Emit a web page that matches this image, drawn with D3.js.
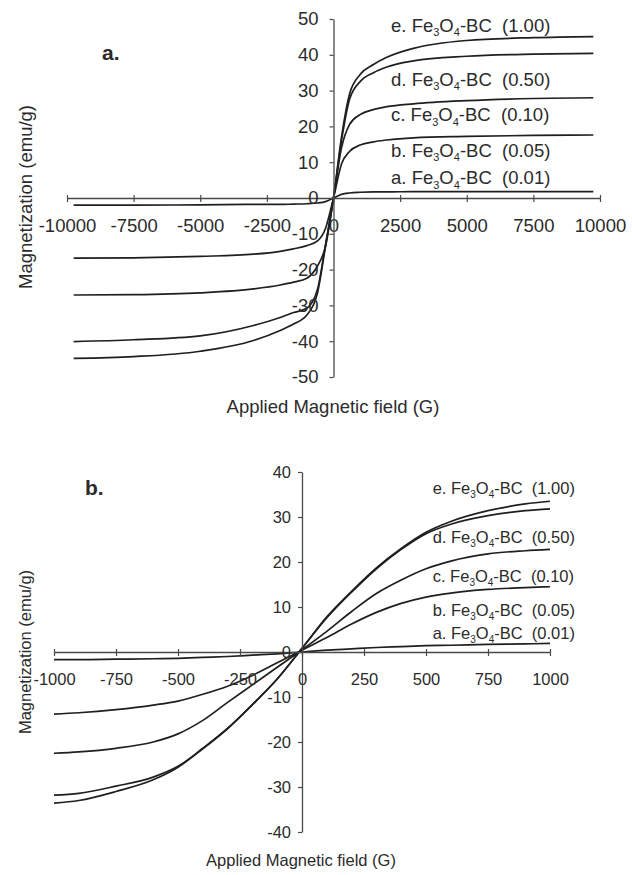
<!DOCTYPE html>
<html>
<head>
<meta charset="utf-8">
<script src="https://cdn.jsdelivr.net/npm/d3@7"></script>
<style>
body { margin: 0; background: #fff; }
svg { display: block; }
text { font-family: "Liberation Sans", Arial, sans-serif; fill: #2b2b2b; }
</style>
</head>
<body>
<svg id="chart" width="632" height="875"></svg>
<script>
// ---- panel a: full field sweep ----
const fieldA = [-9750, -7500, -5000, -3000, -2000, -1500, -1000, -600, -300, 0, 300, 600, 1000, 1500, 2000, 3000, 5000, 7500, 9750]
const magA_a = [-2.0, -2.0, -1.9, -1.8, -1.8, -1.7, -1.6, -1.4, -1.0, 0, 1.0, 1.4, 1.6, 1.7, 1.7, 1.8, 1.8, 1.8, 1.8]
const magA_b = [-16.8, -16.7, -16.3, -15.7, -14.9, -14.2, -13.3, -12.0, -8.5, 0, 9.5, 13.0, 14.8, 15.7, 16.2, 16.8, 17.2, 17.5, 17.6]
const magA_c = [-27.1, -27.0, -26.5, -25.4, -24.3, -23.5, -22.4, -19.0, -13.5, 0, 14.0, 20.5, 23.3, 24.7, 25.5, 26.3, 27.2, 27.8, 28.0]
const magA_d = [-40.1, -39.6, -38.5, -35.6, -33.4, -32.0, -30.8, -25.5, -13.0, 0, 16.0, 27.5, 32.5, 35.0, 36.6, 38.3, 39.6, 40.2, 40.4]
const magA_e = [-44.8, -44.3, -42.8, -39.8, -37.0, -35.2, -32.7, -26.5, -13.5, 0, 17.0, 29.0, 34.5, 37.3, 39.3, 41.8, 44.0, 44.8, 45.1]
const ticksXA = [-10000, -7500, -5000, -2500, 0, 2500, 5000, 7500, 10000]
const ticksYA = [-50, -40, -30, -20, -10, 0, 10, 20, 30, 40, 50]

// ---- panel b: low field zoom ----
const fieldB = [-1000, -900, -750, -600, -500, -400, -300, -200, -100, 0, 100, 200, 300, 400, 500, 600, 750, 900, 1000]
const magB_a = [-1.7, -1.7, -1.6, -1.5, -1.4, -1.2, -1.0, -0.7, -0.4, 0, 0.4, 0.7, 1.0, 1.2, 1.4, 1.5, 1.7, 1.8, 1.9]
const magB_b = [-13.8, -13.5, -12.8, -11.8, -10.9, -9.4, -7.6, -5.2, -2.4, 0.4, 3.2, 6.2, 8.8, 10.8, 12.2, 13.1, 13.9, 14.3, 14.5]
const magB_c = [-22.5, -22.2, -21.4, -20.0, -18.2, -15.2, -11.2, -7.3, -3.4, 0.5, 4.6, 9.0, 13.0, 16.0, 18.5, 20.2, 21.8, 22.5, 22.8]
const magB_d = [-31.8, -31.4, -29.8, -27.8, -25.4, -21.4, -17.0, -11.7, -6.0, 0.8, 7.6, 13.3, 18.5, 22.8, 26.3, 28.4, 30.3, 31.4, 31.8]
const magB_e = [-33.6, -33.0, -31.0, -28.4, -25.6, -21.5, -17.0, -11.7, -6.0, 0.8, 7.8, 13.5, 18.7, 23.0, 26.6, 29.0, 31.4, 32.9, 33.5]
const ticksXB = [-1000, -750, -500, -250, 0, 250, 500, 750, 1000]
const ticksYB = [-40, -30, -20, -10, 0, 10, 20, 30, 40]

// series labels (letter, Fe3O4:BC ratio)
const seriesLetters = ["a", "b", "c", "d", "e"]
const seriesRatios = ["0.01", "0.05", "0.10", "0.50", "1.00"]
// where the series labels sit, in data units
const labelMagA = [5.6, 13.4, 23.2, 33.2, 48.3]
const labelMagB = [4.2, 9.3, 16.9, 25.6, 36.4]

const svg = d3.select("#chart")
svg.append("rect").attr("width", 632).attr("height", 875).attr("fill", "#fff")

function drawPanel(cfg) {
	const g = svg.append("g")
	const x = d3.scaleLinear().domain(cfg.xDomain).range(cfg.xRange)
	const y = d3.scaleLinear().domain(cfg.yDomain).range(cfg.yRange)
	const fs = cfg.fontSize

	//curves first so the axes sit on top like the original
	const line = d3.line()
		.x(d => x(d[0]))
		.y(d => y(d[1]))
		.curve(d3.curveMonotoneX)

	g.selectAll("path.curve")
		.data(cfg.series)
		.join("path")
		.attr("class", "curve")
		.attr("fill", "none")
		.attr("stroke", "#1f1f1f")
		.attr("stroke-width", 1.7)
		.attr("d", s => line(cfg.field.map((f, i) => [f, s[i]])))

	const xAxis = d3.axisBottom(x)
		.tickValues(cfg.xTicks)
		.tickFormat(d => String(d))
		.tickSizeInner(4).tickSizeOuter(0)
		.tickPadding(cfg.xPad)
	const xg = g.append("g")
		.attr("transform", `translate(0,${y(0)})`)
		.call(xAxis)
	xg.selectAll(".tick line").attr("y1", -3).attr("y2", 4)

	const yAxis = d3.axisLeft(y)
		.tickValues(cfg.yTicks)
		.tickFormat(d => String(d))
		.tickSizeInner(4).tickSizeOuter(0)
		.tickPadding(cfg.yPad)
	const yg = g.append("g")
		.attr("transform", `translate(${x(0)},0)`)
		.call(yAxis)

	for (const ax of [xg, yg]) {
		ax.attr("font-family", null).attr("font-size", null)
		ax.select(".domain").attr("stroke", "#4a4a4a").attr("stroke-width", 1.3)
		ax.selectAll(".tick line").attr("stroke", "#4a4a4a").attr("stroke-width", 1.2)
		ax.selectAll(".tick text").style("font-size", fs + "px").attr("fill", "#2b2b2b")
	}

	// series labels
	const lab = g.selectAll("text.series")
		.data(seriesLetters)
		.join("text")
		.attr("class", "series")
		.attr("x", x(cfg.labelField))
		.attr("y", (d, i) => y(cfg.labelMag[i]))
		.attr("dy", "0.35em")
		.style("font-size", fs + "px")
		.style("white-space", "pre")
	lab.each(function(letter, i) {
		const t = d3.select(this)
		const sub = Math.round(fs * 0.62)
		t.append("tspan").text(letter + ". Fe")
		t.append("tspan").attr("dy", fs * 0.25).style("font-size", sub + "px").text("3")
		t.append("tspan").attr("dy", -fs * 0.25).text("O")
		t.append("tspan").attr("dy", fs * 0.25).style("font-size", sub + "px").text("4")
		t.append("tspan").attr("dy", -fs * 0.25).text("-BC  (" + seriesRatios[i] + ")")
	})

	// panel letter
	g.append("text")
		.attr("x", cfg.panelPos[0]).attr("y", cfg.panelPos[1])
		.style("font-size", "21px").style("font-weight", "bold")
		.text(cfg.panel)

	// axis titles
	g.append("text")
		.attr("x", cfg.xTitlePos[0]).attr("y", cfg.xTitlePos[1])
		.attr("text-anchor", "middle")
		.style("font-size", fs + "px")
		.text("Applied Magnetic field (G)")
	g.append("text")
		.attr("transform", `translate(${cfg.yTitlePos[0]},${cfg.yTitlePos[1]}) rotate(-90)`)
		.attr("text-anchor", "middle")
		.attr("dy", "0.35em")
		.style("font-size", fs + "px")
		.text("Magnetization (emu/g)")
}

drawPanel({
	panel: "a.", panelPos: [102, 60],
	field: fieldA, series: [magA_a, magA_b, magA_c, magA_d, magA_e],
	xDomain: [-10000, 10000], xRange: [67, 600],
	yDomain: [-50, 50], yRange: [377, 19],
	xTicks: ticksXA, yTicks: ticksYA,
	fontSize: 18.5, xPad: 17, yPad: 11,
	labelField: 2160, labelMag: labelMagA,
	xTitlePos: [333, 413], yTitlePos: [26, 197],
})

drawPanel({
	panel: "b.", panelPos: [85, 495],
	field: fieldB, series: [magB_a, magB_b, magB_c, magB_d, magB_e],
	xDomain: [-1000, 1000], xRange: [54, 550],
	yDomain: [-40, 40], yRange: [832, 472],
	xTicks: ticksXB, yTicks: ticksYB,
	fontSize: 16.5, xPad: 17, yPad: 7,
	labelField: 527, labelMag: labelMagB,
	xTitlePos: [301, 866], yTitlePos: [25, 652],
})
</script>
</body>
</html>
